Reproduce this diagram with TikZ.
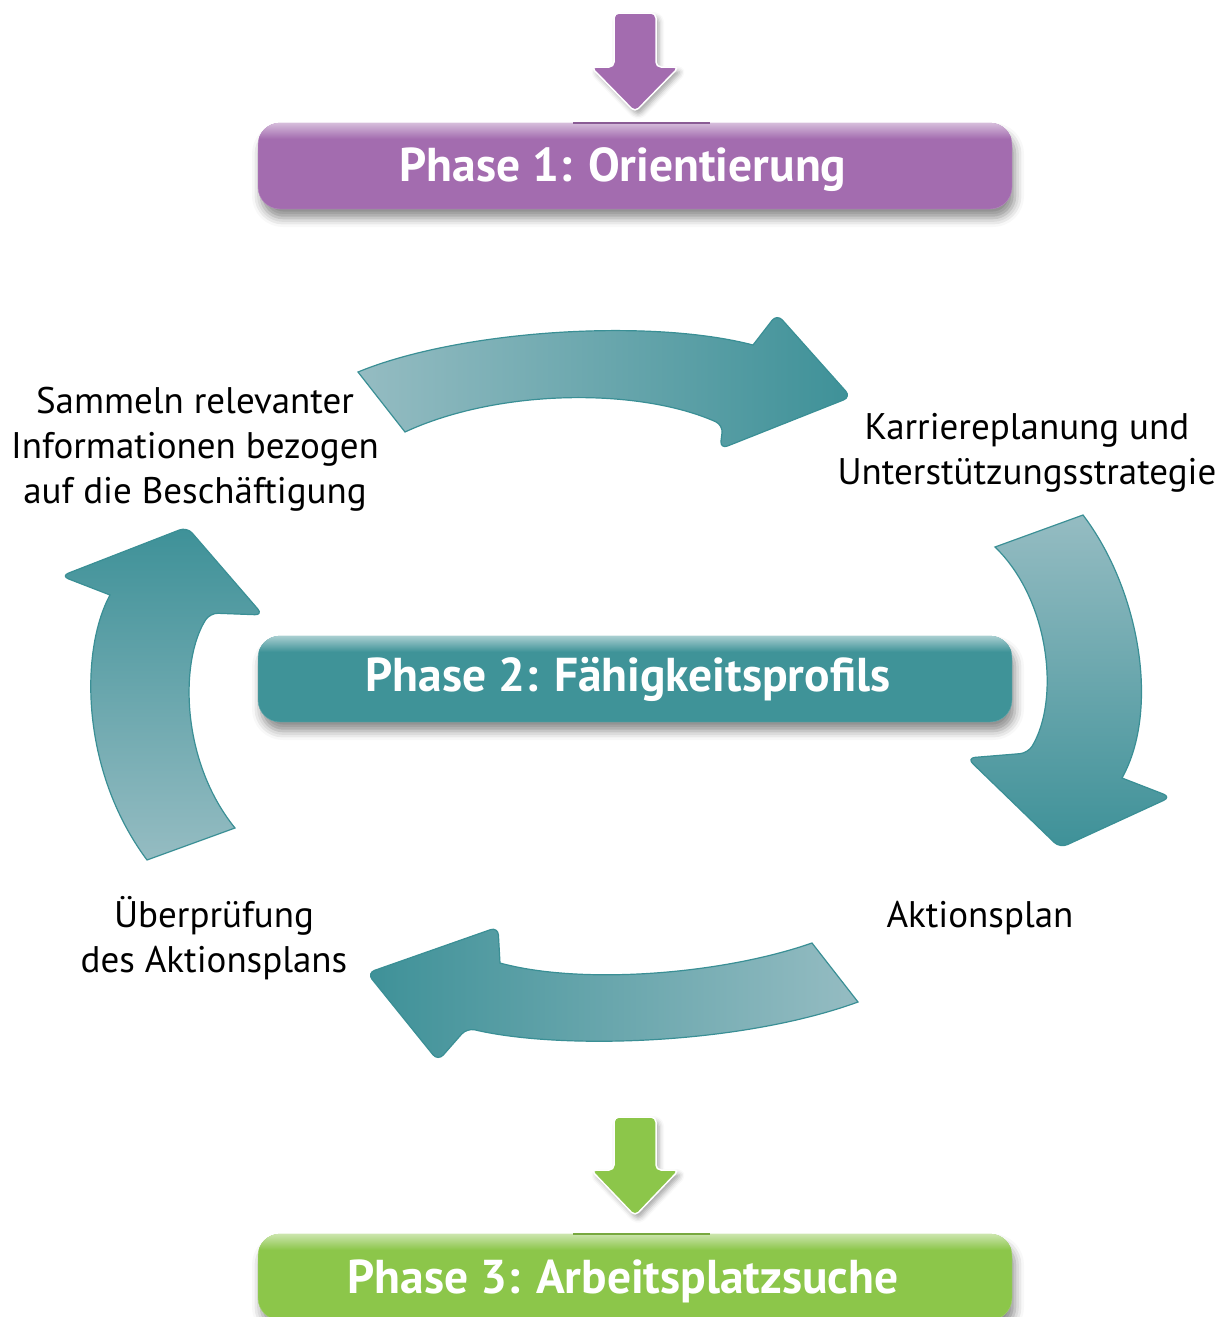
\documentclass[tikz,border=0pt]{standalone}
\usepackage{fontspec}
\setmainfont{PT Sans}
\usetikzlibrary{shadows.blur,calc}
\definecolor{purpleC}{HTML}{A36CAF}
\definecolor{tealC}{HTML}{3F9398}
\definecolor{greenC}{HTML}{8CC64A}
\definecolor{tlight}{HTML}{95BCC2}
\definecolor{tdark}{HTML}{3E9198}
\definecolor{tline}{HTML}{3A8F95}
\begin{document}
\begin{tikzpicture}[x=1pt,y=-1pt,
  phasebox/.style={rounded corners=22pt, minimum width=754pt, minimum height=86pt, inner sep=0pt,
    blur shadow={shadow xshift=3pt, shadow yshift=-9pt, shadow blur radius=9pt, shadow opacity=45}},
  title/.style={text=white, font=\fontsize{47.5}{52}\selectfont\bfseries, inner sep=0pt},
  downarrow/.style={draw=white, line width=1.5pt, rounded corners=5pt,
    blur shadow={shadow xshift=3pt, shadow yshift=-4pt, shadow blur radius=5pt, shadow opacity=35}},
  cyclearrow/.style={draw=tline, line width=1.2pt},
  txt/.style={align=center, font=\fontsize{37}{45}\selectfont, inner sep=0pt}
]
\useasboundingbox (0,0) rectangle (1225,1317);

% boxes
\node[phasebox, fill=purpleC, draw=purpleC!80!white] (p1) at (635,166) {};
\node[phasebox, fill=tealC, draw=tealC!80!white] (p2) at (635,679) {};
\node[phasebox, fill=greenC, draw=greenC!80!white] (p3) at (635,1277) {};

% top highlights
\foreach \b/\c in {p1/purpleC, p2/tealC, p3/greenC}{
  \begin{scope}
    \clip[rounded corners=22pt] (\b.south west) rectangle (\b.north east);
    \shade[top color=white!55!\c, bottom color=\c] (\b.north west) rectangle ($(\b.north east)+(0,16)$);
  \end{scope}
}
\node[title] (p1t) at (623,170) {Phase 1: Orientierung};
\node[title] (p2t) at (628,679) {Phase 2: Fähigkeitsprofils};
\node[title] (p3t) at (623,1281) {Phase 3: Arbeitsplatzsuche};

\draw[purpleC!85!black, line width=2pt] (573,123) -- (710,123);
\draw[greenC!85!black, line width=2pt] (573,1234) -- (710,1234);

% straight arrows
\coordinate (a1tip) at (635,112);
\coordinate (a3tip) at (635,1216);
\path[downarrow, fill=purpleC] (614,13) -- (656,13) -- (656,67) -- (679,67) -- (a1tip) -- (591,67) -- (614,67) -- cycle;
\path[downarrow, fill=greenC] (614,1117) -- (656,1117) -- (656,1170) -- (679,1170) -- (a3tip) -- (591,1170) -- (614,1170) -- cycle;

% cycle arrows
% top
\path[cyclearrow, left color=tlight, right color=tdark]
  (358,372) .. controls (460,330) and (650,318) .. (753,345)
  [rounded corners=8pt] -- (777,314) -- (851,397) -- (720,449) -- (723,425) [sharp corners]
  .. controls (640,388) and (500,388) .. (405,432) -- cycle;
% right
\path[cyclearrow, top color=tlight, bottom color=tdark]
  (995,547) -- (1083,515) .. controls (1140,590) and (1160,710) .. (1122,778)
  [rounded corners=8pt] -- (1171,797) -- (1060,848) -- (967,758) -- (1028,753) [sharp corners]
  .. controls (1060,700) and (1050,600) .. (995,547) -- cycle;
% left
\path[cyclearrow, top color=tdark, bottom color=tlight]
  (147,860) .. controls (80,770) and (80,650) .. (110,595)
  [rounded corners=8pt] -- (61,576) -- (187,527) -- (263,615) -- (210,613) [sharp corners]
  .. controls (180,660) and (180,760) .. (235,828) -- cycle;
% bottom
\path[cyclearrow, left color=tdark, right color=tlight]
  (812,943) .. controls (720,975) and (580,985) .. (500,963)
  [rounded corners=8pt] -- (498,927) -- (367,973) -- (438,1061) -- (467,1028) [sharp corners]
  .. controls (560,1050) and (740,1045) .. (858,1002) -- cycle;

% texts
\node[txt] (t1) at (195,449) {Sammeln relevanter\\Informationen bezogen\\auf die Beschäftigung};
\node[txt] (t2) at (1027,453) {Karriereplanung und\\Unterstützungsstrategie};
\node[txt] (t3) at (980,918) {Aktionsplan};
\node[txt] (t4) at (214,938) {Überprüfung\\des Aktionsplans};
\end{tikzpicture}
\end{document}
